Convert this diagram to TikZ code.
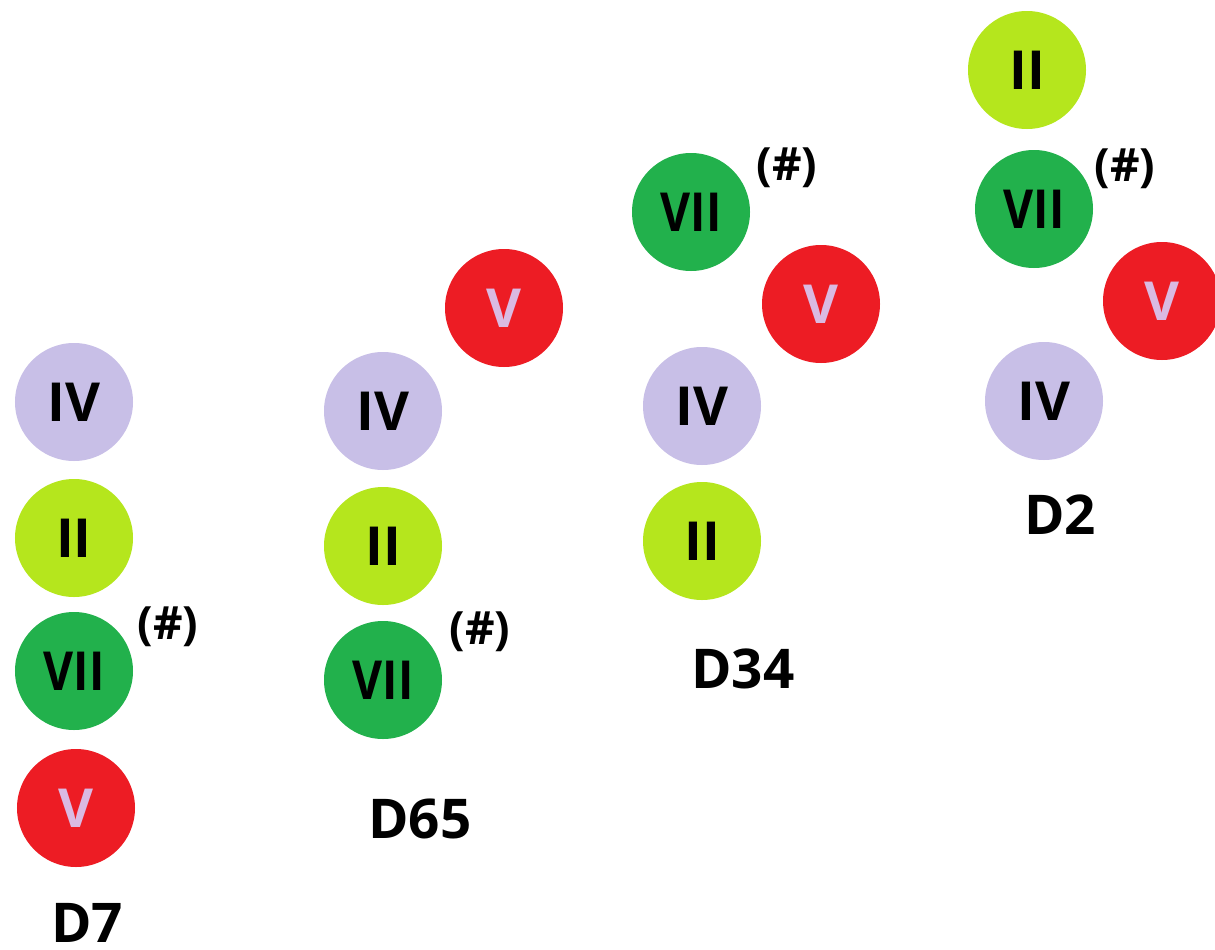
\documentclass[tikz,border=0pt]{standalone}
\usepackage{fontspec}
\setmainfont{Open Sans}
\definecolor{cIV}{RGB}{200,191,231}
\definecolor{cII}{RGB}{181,230,29}
\definecolor{cVII}{RGB}{34,177,76}
\definecolor{cV}{RGB}{237,28,36}
\definecolor{vtext}{RGB}{218,186,226}
\newcommand{\seventxt}{\scalebox{0.86}[1]{VII}}
\begin{document}
\begin{tikzpicture}[x=1bp,y=-1bp,
  deg/.style={circle,minimum size=118bp,inner sep=0pt,font=\fontsize{54}{60}\selectfont\bfseries},
  four/.style={deg,fill=cIV,text=black},
  two/.style={deg,fill=cII,text=black},
  seven/.style={deg,fill=cVII,text=black},
  five/.style={deg,fill=cV,text=vtext},
  sharp/.style={inner sep=0pt,font=\fontsize{46}{50}\selectfont\bfseries},
  lbl/.style={inner sep=0pt,font=\fontsize{55}{60}\selectfont\bfseries}]
\useasboundingbox (0,0) rectangle (1215,950);
\fill[white] (0,0) rectangle (1215,950);
% D7
\node[four]  (a4) at (74,402) {IV};
\node[two]   (a2) at (74,538) {II};
\node[seven] (a7) at (74,671) {\seventxt};
\node[five]  (a5) at (76,808) {V};
\node[sharp] (as) at (168,627) {(\#)};
\node[lbl]   (al) at (87,923) {D7};
% D65
\node[five]  (b5) at (504,308) {V};
\node[four]  (b4) at (383,411) {IV};
\node[two]   (b2) at (383,546) {II};
\node[seven] (b7) at (383,680) {\seventxt};
\node[sharp] (bs) at (480,632) {(\#)};
\node[lbl]   (bl) at (420,819) {D65};
% D34
\node[seven] (c7) at (691,212) {\seventxt};
\node[sharp] (cs) at (787,168) {(\#)};
\node[five]  (c5) at (821,304) {V};
\node[four]  (c4) at (702,406) {IV};
\node[two]   (c2) at (702,541) {II};
\node[lbl]   (cl) at (743,669) {D34};
% D2
\node[two]   (d2) at (1027,70) {II};
\node[seven] (d7) at (1034,209) {\seventxt};
\node[sharp] (ds) at (1125,169) {(\#)};
\node[five]  (d5) at (1162,301) {V};
\node[four]  (d4) at (1044,401) {IV};
\node[lbl]   (dl) at (1060,515) {D2};
\end{tikzpicture}
\end{document}
